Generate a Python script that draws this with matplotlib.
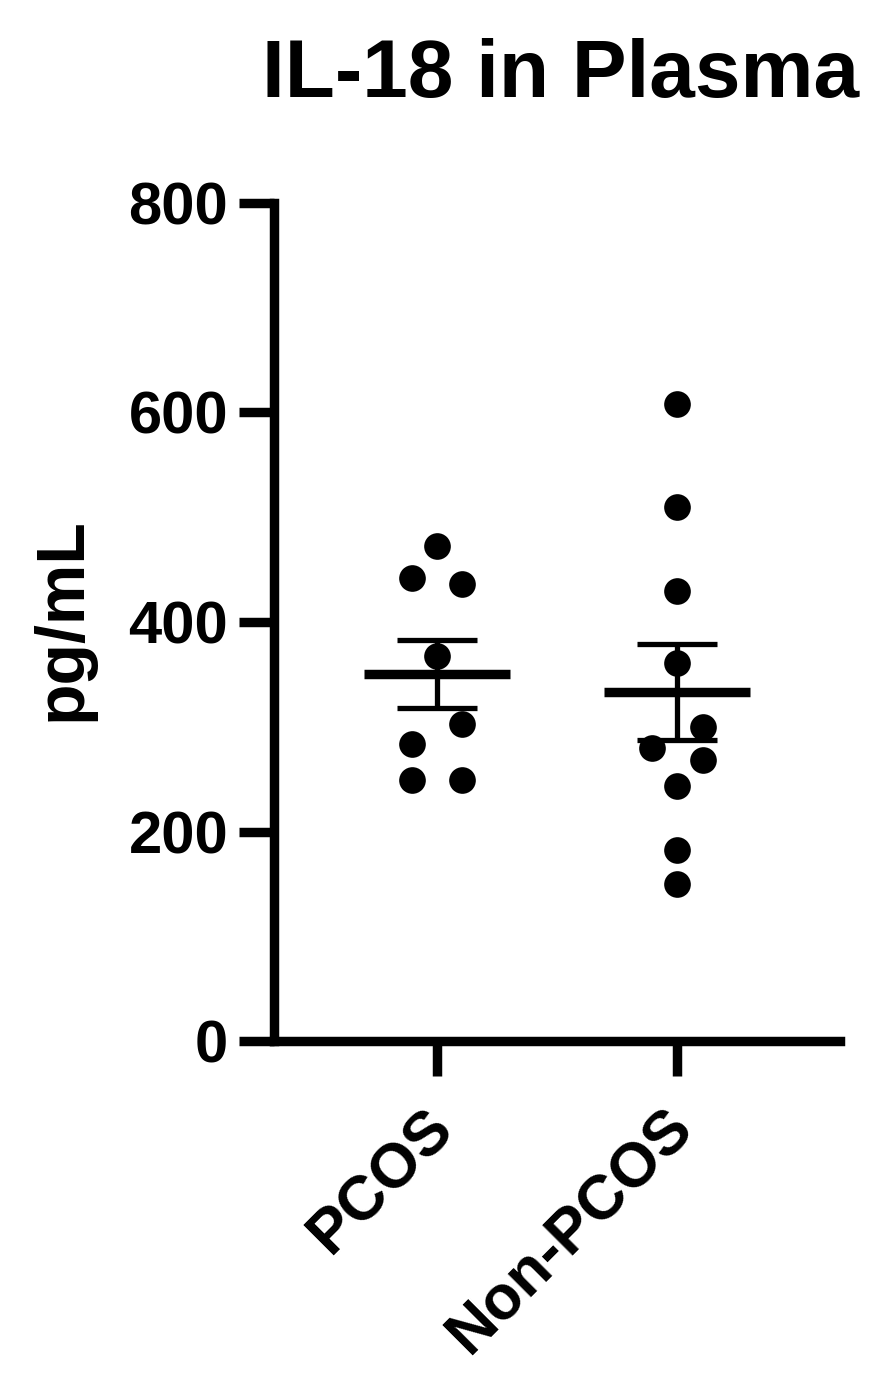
import numpy as np
import matplotlib
matplotlib.use("Agg")
import matplotlib.pyplot as plt
from matplotlib.transforms import ScaledTranslation

# values (pg/mL)
groups = ["PCOS", "Non-PCOS"]
pcos = [473, 442, 436, 368, 303, 284, 249, 249]
non_pcos = [608, 510, 430, 361, 300, 280, 268, 243, 182, 150]
y_ticks = [0, 200, 400, 600, 800]

# horizontal scatter of dots around each group centre (in category units)
pcos_dx = [0, -0.105, 0.105, 0, 0.105, -0.105, -0.105, 0.105]
non_pcos_dx = [0, 0, 0, 0, 0.108, -0.105, 0.108, 0, 0, 0]

plt.rcParams['font.family'] = ['Liberation Sans', 'DejaVu Sans']
plt.rcParams['font.weight'] = 'bold'

fig = plt.figure(figsize=(8.78, 13.89), dpi=100)
ax = fig.add_axes([274 / 878, 348 / 1389, (840 - 274) / 878, (1186 - 348) / 1389])

for i, (vals, dx) in enumerate([(pcos, pcos_dx), (non_pcos, non_pcos_dx)]):
    vals = np.array(vals, dtype=float)
    mean = vals.mean()
    sem = vals.std(ddof=1) / np.sqrt(len(vals))

    # mean bar
    ax.plot([i - 0.306, i + 0.306], [mean, mean], color='black', lw=6.8,
            solid_capstyle='butt', zorder=3)
    # SEM whisker + caps
    ax.plot([i, i], [mean - sem, mean + sem], color='black', lw=3.8,
            solid_capstyle='butt', zorder=3)
    for yy in (mean - sem, mean + sem):
        ax.plot([i - 0.168, i + 0.168], [yy, yy], color='black', lw=3.8,
                solid_capstyle='butt', zorder=3)
    # individual points
    ax.plot(i + np.array(dx), vals, 'o', color='black', ms=19.2, mew=0, zorder=4)

ax.set_xlim(-0.68, 1.68)
ax.set_ylim(0, 800)
ax.set_yticks(y_ticks)
ax.set_xticks(range(len(groups)))
ax.set_xticklabels(groups, rotation=45, ha='right', rotation_mode='anchor')

for side in ('top', 'right'):
    ax.spines[side].set_visible(False)
for side in ('left', 'bottom'):
    ax.spines[side].set_linewidth(6.8)
    ax.spines[side].set_capstyle('projecting')

ax.tick_params(axis='both', length=25, width=6.8, direction='out')
ax.tick_params(axis='y', pad=8, labelsize=43)
ax.tick_params(axis='x', pad=12, labelsize=45)
shift = ScaledTranslation(-14 / 100, -5 / 100, fig.dpi_scale_trans)
for lab in ax.get_xticklabels():
    lab.set_fontweight('bold')
    lab.set_transform(lab.get_transform() + shift)
for lab in ax.get_yticklabels():
    lab.set_fontweight('bold')

fig.text(561 / 878, 1 - 97 / 1389, "IL-18 in Plasma", ha='center', va='baseline',
         fontsize=59, fontweight='bold')
fig.text(63 / 878, 1 - 619 / 1389, "pg/mL", ha='center', va='center', rotation=90,
         fontsize=49, fontweight='bold')

fig.savefig("out.png", dpi=100)
